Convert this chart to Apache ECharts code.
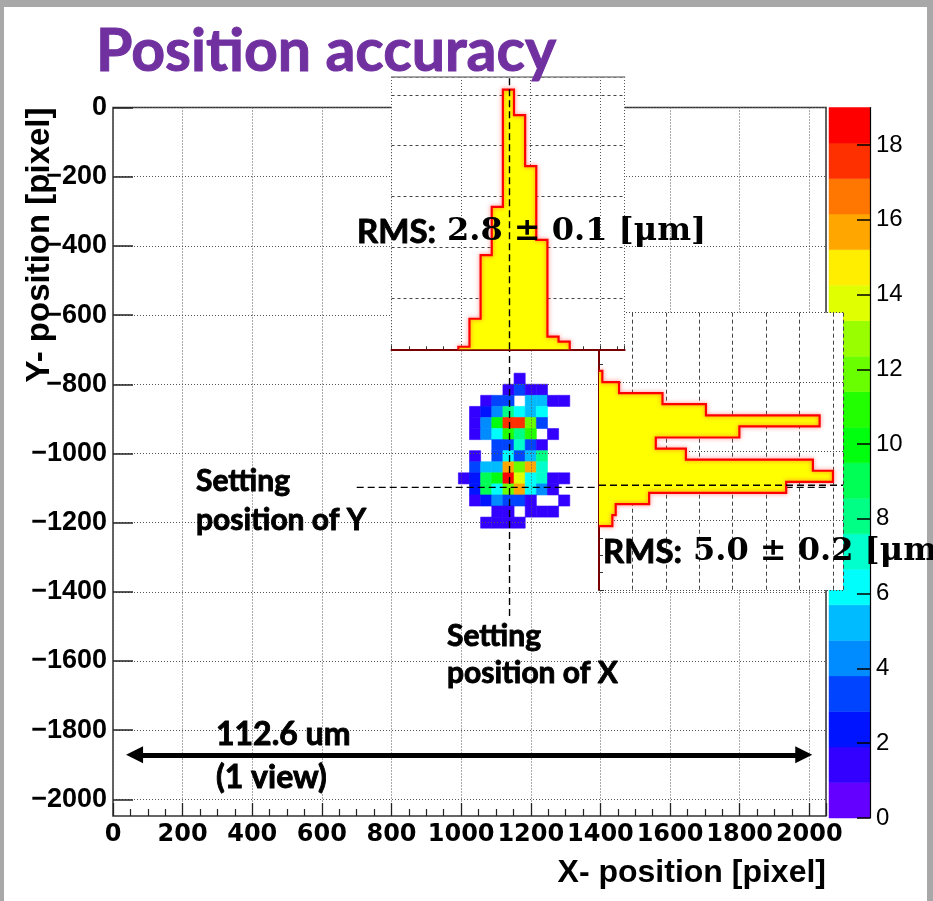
<!DOCTYPE html>
<html>
<head>
<meta charset="utf-8">
<title>Position accuracy</title>
<script src="https://cdn.jsdelivr.net/npm/echarts@6.0.0/dist/echarts.min.js"></script>
<style>
html, body { margin: 0; padding: 0; background: #ffffff; }
#chart { width: 933px; height: 901px; }
</style>
</head>
<body>
<div id="chart"></div>
<script>
// ---- data ----------------------------------------------------------------
// Lower edges of the 32-pixel X bins and upper edges of the Y bins.
const xBinStarts = [992, 1024, 1056, 1088, 1120, 1152, 1184, 1216, 1248, 1280];
const yBinTops = [-768, -800, -832, -864, -896, -928, -960, -992, -1024, -1056, -1088, -1120, -1152, -1184];
const binSize = 32;

// Entries per cell: one row per Y bin (top to bottom), one column per X bin.
const hitCounts = [
  [0, 0, 0, 0, 0, 1, 0, 0, 0, 0],
  [0, 0, 0, 0, 1, 3, 1, 1, 0, 0],
  [0, 0, 1, 3, 3, 0, 5, 5, 1, 1],
  [0, 1, 2, 4, 8, 6, 5, 6, 0, 0],
  [0, 1, 4, 10, 18, 18, 12, 3, 0, 0],
  [0, 1, 4, 6, 11, 8, 11, 0, 1, 0],
  [0, 0, 0, 3, 3, 7, 3, 1, 0, 0],
  [0, 1, 0, 3, 6, 3, 5, 8, 0, 0],
  [0, 3, 5, 5, 16, 12, 16, 7, 0, 0],
  [1, 2, 9, 10, 19, 14, 6, 7, 1, 1],
  [0, 2, 9, 6, 12, 16, 6, 4, 1, 0],
  [0, 1, 2, 4, 3, 3, 1, 0, 0, 1],
  [0, 0, 0, 1, 1, 0, 1, 1, 1, 0],
  [0, 0, 1, 1, 1, 1, 0, 0, 0, 0]
];

// Projected histograms (X projection on top, Y projection at the right).
const xProjection = [1, 12, 37, 56, 102, 92, 72, 43, 5, 3];
const yProjection = [1, 6, 19, 32, 66, 42, 17, 26, 64, 70, 56, 15, 5, 4];

// Nominal set position.
const setPositionX = 1139;
const setPositionY = -1098;

// Tick labels.
const xTickValues = [0, 200, 400, 600, 800, 1000, 1200, 1400, 1600, 1800, 2000];
const yTickValues = [0, -200, -400, -600, -800, -1000, -1200, -1400, -1600, -1800, -2000];
const zTickValues = [0, 2, 4, 6, 8, 10, 12, 14, 16, 18];

// Colour palette, one colour per contour level (violet -> red).
const palette = ['#6300ff', '#3300ff', '#0014ff', '#0044ff', '#008bff', '#00bbff', '#00fffc',
  '#00ffcc', '#00ff85', '#00ff55', '#00ff0e', '#22ff00', '#69ff00', '#99ff00', '#e0ff00',
  '#ffee00', '#ffa700', '#ff7700', '#ff3000', '#ff0000'];
const zMax = 19;

// ---- derived structures ---------------------------------------------------
const levelStep = zMax / palette.length;
const pieces = palette.map((color, i) => (i === palette.length - 1
  ? { gte: i * levelStep, lte: zMax, color }
  : { gte: i * levelStep, lt: (i + 1) * levelStep, color }));

const cellData = [];
hitCounts.forEach((row, r) => {
  row.forEach((count, c) => {
    if (count > 0) cellData.push([xBinStarts[c], yBinTops[r], count]);
  });
});
const colorbarData = palette.map((c, i) => [0.5, i * levelStep, (i + 1) * levelStep, i]);

const minus = v => (v < 0 ? '\u2212' + Math.abs(v) : String(v));
const dotted = { color: '#555', width: 1, type: [1, 2] };
const guideStyle = { color: '#000', width: 1.4, type: [7, 4] };
const maroon = '#7a0000';

const rmsRich = {
  a: { font: 'bold 33px Lato', fill: '#000', stroke: '#000', lineWidth: 0.9 },
  b: { font: 'bold 32px "DejaVu Serif"', fill: '#000', padding: [0, 0, 0, 11] }
};
const noteStyle = (text, x, y, lineHeight, size) => ({
  text, x, y, fill: '#000', lineHeight,
  font: 'bold ' + size + 'px Lato', stroke: '#000', lineWidth: 0.9,
  textAlign: 'left', align: 'left', textVerticalAlign: 'top', verticalAlign: 'top'
});

const chart = echarts.init(document.getElementById('chart'), null, { renderer: 'canvas' });

chart.setOption({
  animation: false,
  backgroundColor: '#ffffff',
  grid: [
    { // main hit map
      left: 113, top: 107.5, width: 713, height: 708.5, show: true,
      borderColor: '#333', borderWidth: 1.5, backgroundColor: 'transparent',
      outerBoundsMode: 'none', z: 0
    },
    { // colour scale
      left: 829, top: 107.5, width: 41, height: 710.5, outerBoundsMode: 'none', z: 0
    },
    { // Y projection
      left: 599, top: 312.7, width: 244, height: 277.3, show: true,
      backgroundColor: '#fff', borderWidth: 0, outerBoundsMode: 'none', z: 3
    },
    { // X projection
      left: 391.5, top: 77, width: 233.2, height: 272.3, show: true,
      backgroundColor: '#fff', borderWidth: 0, outerBoundsMode: 'none', z: 5
    }
  ],
  xAxis: [
    {
      gridIndex: 0, type: 'value', min: 0, max: 2048, interval: 200, z: 2, position: 'bottom',
      axisLine: { show: false, onZero: false },
      axisTick: { inside: true, length: 13, lineStyle: { color: '#222', width: 1.3 } },
      minorTick: { show: true, splitNumber: 4, length: 7, lineStyle: { color: '#222', width: 1.2 } },
      axisLabel: {
        customValues: xTickValues, margin: 7, color: '#000',
        fontFamily: 'DejaVu Sans', fontWeight: 'bold', fontSize: 24, formatter: minus
      },
      splitLine: { show: true, lineStyle: dotted }
    },
    {
      gridIndex: 1, type: 'value', min: 0, max: 1, show: false
    },
    {
      gridIndex: 2, type: 'value', min: 0, max: 73, interval: 10, z: 3.5,
      axisLine: { show: false, onZero: false }, axisTick: { show: false }, axisLabel: { show: false },
      splitLine: { show: true, lineStyle: { color: '#444', width: 1, type: [4, 3] } }
    },
    {
      gridIndex: 3, type: 'value', min: 800, max: 1470, interval: 200, z: 5.5, position: 'bottom',
      axisLine: { show: true, onZero: false, lineStyle: { color: maroon, width: 2 } },
      axisTick: { inside: true, length: 4, lineStyle: { color: '#333' } },
      minorTick: { show: true, splitNumber: 4, length: 3, lineStyle: { color: '#333' } },
      axisLabel: { show: false },
      splitLine: { show: true, lineStyle: dotted }
    },
    {
      gridIndex: 3, type: 'value', min: 800, max: 1470, position: 'top', z: 5.5,
      axisLine: { show: true, onZero: false, lineStyle: { color: '#888', width: 1.5 } },
      axisTick: { show: false }, axisLabel: { show: false }, splitLine: { show: false }
    }
  ],
  yAxis: [
    {
      gridIndex: 0, type: 'value', min: -2048, max: 0, z: 2, position: 'left',
      axisLine: { show: false, onZero: false },
      axisTick: { customValues: yTickValues, inside: true, length: 20, lineStyle: { color: '#222', width: 1.5 } },
      axisLabel: {
        customValues: yTickValues, margin: 6, color: '#000',
        fontFamily: 'Liberation Sans', fontWeight: 'bold', fontSize: 27, formatter: minus
      },
      splitLine: { show: true, lineStyle: dotted }
    },
    {
      gridIndex: 1, type: 'value', min: 0, max: zMax, position: 'right', z: 1,
      axisLine: { show: true, onZero: false, lineStyle: { color: '#000', width: 1.2 } },
      axisTick: { customValues: zTickValues, inside: true, length: 13, lineStyle: { color: '#000', width: 1.5 } },
      axisLabel: {
        customValues: zTickValues, margin: 6, color: '#000',
        fontFamily: 'Liberation Sans', fontSize: 24
      },
      splitLine: { show: false }
    },
    {
      gridIndex: 2, type: 'value', min: -1400, max: -600, interval: 200, z: 3.5, position: 'left',
      axisLine: { show: true, onZero: false, lineStyle: { color: maroon, width: 2 } },
      axisTick: { inside: true, length: 5, lineStyle: { color: '#333' } },
      minorTick: { show: true, splitNumber: 4, length: 4, lineStyle: { color: '#333' } },
      axisLabel: { show: false },
      splitLine: { show: true, lineStyle: { color: '#444', width: 1.2, type: [1, 2] } }
    },
    {
      gridIndex: 3, type: 'value', min: 0, max: 107, interval: 20, z: 5.5,
      axisLine: { show: false, onZero: false }, axisTick: { show: false }, axisLabel: { show: false },
      splitLine: { show: true, lineStyle: { color: '#444', width: 1, type: [3, 3] } }
    }
  ],
  visualMap: {
    type: 'piecewise', show: false, seriesIndex: 0, dimension: 2, pieces
  },
  series: [
    { // hit map cells
      type: 'custom', xAxisIndex: 0, yAxisIndex: 0, z: 1,
      data: cellData,
      encode: { x: 0, y: 1 },
      renderItem(params, api) {
        const x0 = api.value(0), yTop = api.value(1);
        const a = api.coord([x0, yTop]);
        const b = api.coord([x0 + binSize, yTop - binSize]);
        const color = api.visual('color');
        return {
          type: 'rect',
          shape: { x: a[0], y: a[1], width: b[0] - a[0], height: b[1] - a[1] },
          style: { fill: color, stroke: color, lineWidth: 0.6 }
        };
      }
    },
    { // vertical guide at the set X position
      type: 'line', xAxisIndex: 0, yAxisIndex: 0, z: 3, symbol: 'none', silent: true,
      data: [[setPositionX, -1470], [setPositionX, 0]],
      lineStyle: guideStyle
    },
    { // horizontal guide at the set Y position, plus the field-of-view arrow
      type: 'line', xAxisIndex: 0, yAxisIndex: 0, z: 3, symbol: 'none', silent: true,
      data: [[700, setPositionY], [2048, setPositionY]],
      lineStyle: guideStyle,
      markLine: {
        silent: true, symbol: ['triangle', 'triangle'], symbolSize: [17, 17],
        label: { show: false },
        lineStyle: { color: '#000', width: 5, type: 'solid' },
        emphasis: { disabled: true },
        data: [[{ coord: [62, -1871] }, { coord: [1984, -1871] }]]
      }
    },
    { // colour scale bands
      type: 'custom', xAxisIndex: 1, yAxisIndex: 1, z: 0.5, silent: true,
      data: colorbarData,
      encode: { x: 0, y: [1, 2] },
      renderItem(params, api) {
        const a = api.coord([0, api.value(2)]);
        const b = api.coord([1, api.value(1)]);
        return {
          type: 'rect',
          shape: { x: a[0], y: a[1], width: b[0] - a[0], height: b[1] - a[1] },
          style: { fill: palette[api.value(3)], stroke: palette[api.value(3)], lineWidth: 0.5 }
        };
      }
    },
    { // Y projection histogram
      type: 'custom', xAxisIndex: 2, yAxisIndex: 2, z: 4, silent: true,
      data: [[0, yBinTops[0]]],
      encode: { x: 0, y: 1 },
      renderItem(params, api) {
        const n = yProjection.length;
        const pts = [api.coord([0, yBinTops[0]])];
        for (let i = 0; i < n; i++) {
          pts.push(api.coord([yProjection[i], yBinTops[i]]));
          pts.push(api.coord([yProjection[i], yBinTops[i] - binSize]));
        }
        pts.push(api.coord([0, yBinTops[n - 1] - binSize]));
        return {
          type: 'group',
          children: [
            { type: 'polygon', shape: { points: pts }, style: { fill: '#ffff00' } },
            {
              type: 'polyline', shape: { points: pts },
              style: { stroke: '#ff0000', lineWidth: 2.2, fill: null, shadowBlur: 4, shadowColor: 'rgba(255,60,60,0.7)' }
            }
          ]
        };
      }
    },
    { // guide across the Y projection
      type: 'line', xAxisIndex: 2, yAxisIndex: 2, z: 4.8, symbol: 'none', silent: true,
      data: [[0, setPositionY], [73, setPositionY]],
      lineStyle: guideStyle
    },
    { // X projection histogram
      type: 'custom', xAxisIndex: 3, yAxisIndex: 3, z: 6, silent: true,
      data: [[xBinStarts[0], 0]],
      encode: { x: 0, y: 1 },
      renderItem(params, api) {
        const n = xProjection.length;
        const pts = [api.coord([xBinStarts[0], 0])];
        for (let i = 0; i < n; i++) {
          pts.push(api.coord([xBinStarts[i], xProjection[i]]));
          pts.push(api.coord([xBinStarts[i] + binSize, xProjection[i]]));
        }
        pts.push(api.coord([xBinStarts[n - 1] + binSize, 0]));
        return {
          type: 'group',
          children: [
            { type: 'polygon', shape: { points: pts }, style: { fill: '#ffff00' } },
            {
              type: 'polyline', shape: { points: pts },
              style: { stroke: '#ff0000', lineWidth: 2.2, fill: null, shadowBlur: 4, shadowColor: 'rgba(255,60,60,0.7)' }
            }
          ]
        };
      }
    },
    { // guide across the X projection
      type: 'line', xAxisIndex: 3, yAxisIndex: 3, z: 6.8, symbol: 'none', silent: true,
      data: [[setPositionX, 0], [setPositionX, 107]],
      lineStyle: guideStyle
    }
  ],
  graphic: [
    // slide frame shading
    { type: 'rect', z: 200, silent: true, shape: { x: 0, y: 0, width: 933, height: 7 }, style: { fill: '#a8a8a8' } },
    { type: 'rect', z: 200, silent: true, shape: { x: 0, y: 0, width: 4, height: 901 }, style: { fill: '#a8a8a8' } },
    { type: 'rect', z: 200, silent: true, shape: { x: 927, y: 0, width: 6, height: 901 }, style: { fill: '#a8a8a8' } },
    {
      type: 'text', z: 300, silent: true,
      style: {
        text: 'Position accuracy', x: 96, y: 52, fill: '#7030a0', stroke: '#7030a0', lineWidth: 1,
        font: 'bold 59px Lato', textAlign: 'left', align: 'left', textVerticalAlign: 'middle', verticalAlign: 'middle'
      }
    },
    {
      type: 'text', z: 300, silent: true,
      style: {
        text: 'X- position [pixel]', x: 826, y: 873, fill: '#000',
        font: 'bold 32px "Liberation Sans"', textAlign: 'right', align: 'right', textVerticalAlign: 'middle', verticalAlign: 'middle'
      }
    },
    {
      type: 'text', z: 300, silent: true, x: 40, y: 245, rotation: Math.PI / 2,
      style: {
        text: 'Y- position [pixel]', x: 0, y: 0, fill: '#000',
        font: 'bold 33px "Liberation Sans"', textAlign: 'center', align: 'center', textVerticalAlign: 'middle', verticalAlign: 'middle'
      }
    },
    {
      type: 'text', z: 300, silent: true,
      style: {
        text: '{a|RMS:}{b|2.8 \u00b1 0.1 [\u03bcm]}', x: 357, y: 232, fill: '#000',
        textAlign: 'left', align: 'left', textVerticalAlign: 'middle', verticalAlign: 'middle',
        rich: rmsRich
      }
    },
    {
      type: 'text', z: 300, silent: true,
      style: {
        text: '{a|RMS:}{b|5.0 \u00b1 0.2 [\u03bcm]}', x: 603, y: 552, fill: '#000',
        textAlign: 'left', align: 'left', textVerticalAlign: 'middle', verticalAlign: 'middle',
        rich: rmsRich
      }
    },
    { type: 'text', z: 300, silent: true, style: noteStyle('Setting\nposition of Y', 196, 462, 39, 30) },
    { type: 'text', z: 300, silent: true, style: noteStyle('Setting\nposition of X', 447, 618, 37, 30) },
    { type: 'text', z: 300, silent: true, style: noteStyle('112.6 um\n(1 view)', 216, 713, 43, 32) }
  ]
});
</script>
</body>
</html>
